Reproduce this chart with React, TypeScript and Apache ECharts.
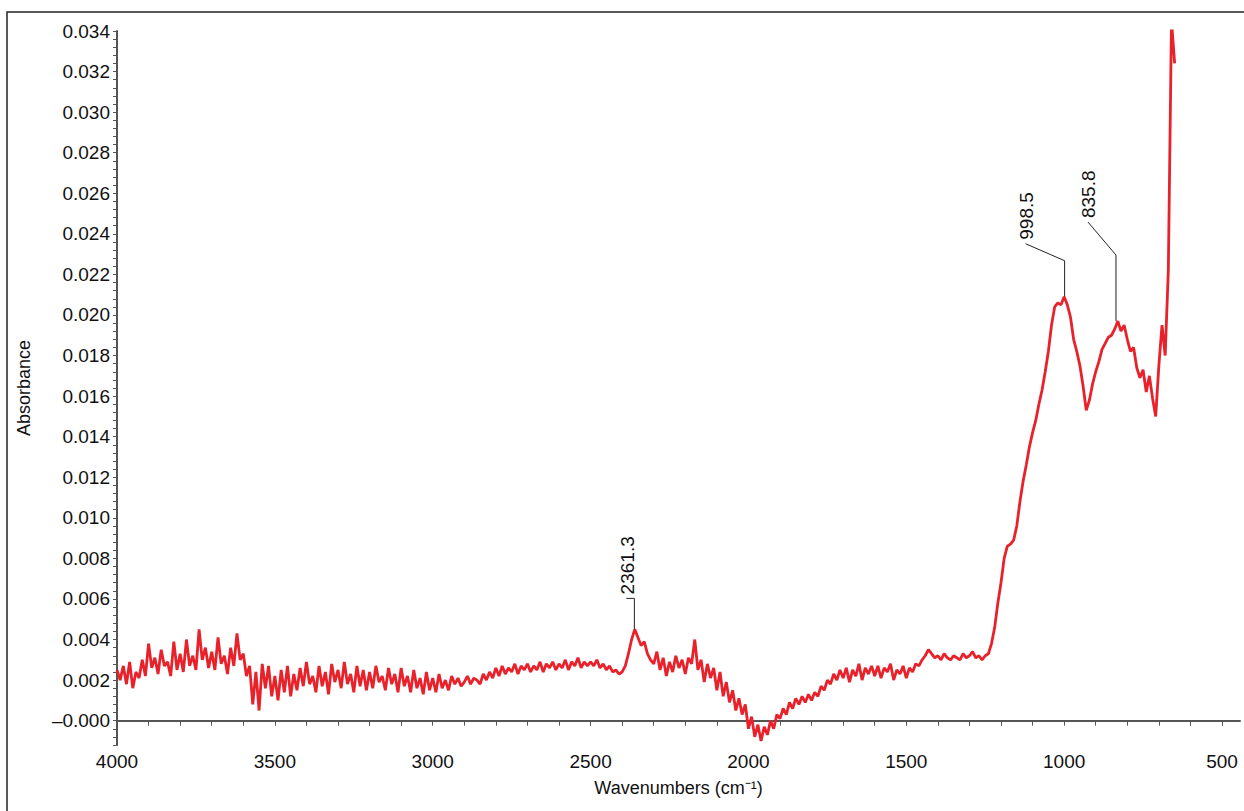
import { useEffect, useRef } from "react";
import * as echarts from "echarts";

// spectrum sampled every 10 cm-1 starting at 4000, one row per 100 cm-1
const startWavenumber = 4000;
const stepWavenumber = 10;
const absorbanceRows: number[][] = [
  [0.0025, 0.002, 0.0027, 0.0018, 0.0029, 0.0016, 0.0024, 0.0021, 0.003, 0.0022],
  [0.0038, 0.0026, 0.0031, 0.0023, 0.0035, 0.0027, 0.0029, 0.0022, 0.0039, 0.0025],
  [0.0033, 0.0024, 0.004, 0.0027, 0.0032, 0.0025, 0.0045, 0.003, 0.0036, 0.0026],
  [0.0034, 0.0025, 0.0041, 0.0028, 0.0032, 0.0023, 0.0036, 0.0027, 0.0043, 0.003],
  [0.0033, 0.0022, 0.0027, 0.0008, 0.0024, 0.0005, 0.0028, 0.0016, 0.0027, 0.0012],
  [0.0022, 0.001, 0.0025, 0.0014, 0.0027, 0.0012, 0.0023, 0.0015, 0.0026, 0.0017],
  [0.0029, 0.0018, 0.0022, 0.0014, 0.0027, 0.0017, 0.0024, 0.0013, 0.0028, 0.0019],
  [0.0025, 0.0016, 0.0029, 0.0018, 0.0023, 0.0014, 0.0027, 0.0017, 0.0025, 0.0015],
  [0.0024, 0.0016, 0.0027, 0.0019, 0.0022, 0.0015, 0.0026, 0.0018, 0.0023, 0.0014],
  [0.0026, 0.0017, 0.0022, 0.0014, 0.0025, 0.0016, 0.0021, 0.0013, 0.0024, 0.0015],
  [0.0021, 0.0014, 0.0023, 0.0016, 0.002, 0.0015, 0.0022, 0.0018, 0.0021, 0.0017],
  [0.0019, 0.0022, 0.0018, 0.0021, 0.002, 0.0018, 0.0023, 0.002, 0.0024, 0.0021],
  [0.0026, 0.0022, 0.0027, 0.0023, 0.0026, 0.0024, 0.0028, 0.0023, 0.0027, 0.0025],
  [0.0028, 0.0024, 0.0027, 0.0025, 0.0029, 0.0024, 0.0028, 0.0026, 0.0029, 0.0025],
  [0.0028, 0.0026, 0.003, 0.0025, 0.0029, 0.0027, 0.0031, 0.0026, 0.0029, 0.0027],
  [0.0029, 0.0027, 0.003, 0.0026, 0.0028, 0.0025, 0.0027, 0.0024, 0.0025, 0.0023],
  [0.0024, 0.0027, 0.0033, 0.004, 0.0045, 0.0041, 0.0037, 0.0039, 0.0033, 0.003],
  [0.0028, 0.0034, 0.0025, 0.0031, 0.0022, 0.0029, 0.0024, 0.0032, 0.0026, 0.003],
  [0.0023, 0.0031, 0.0028, 0.004, 0.0025, 0.003, 0.0019, 0.0028, 0.0021, 0.0026],
  [0.0015, 0.0024, 0.0012, 0.0019, 0.0009, 0.0015, 0.0005, 0.0011, 0.0003, 0.0008],
  [-0.0004, 0.0002, -0.0008, -0.0002, -0.001, -0.0003, -0.0007, 0.0, -0.0004, 0.0003],
  [0.0001, 0.0006, 0.0003, 0.0009, 0.0006, 0.0011, 0.0008, 0.0012, 0.0009, 0.0013],
  [0.001, 0.0014, 0.0012, 0.0017, 0.0015, 0.002, 0.0018, 0.0023, 0.002, 0.0025],
  [0.0021, 0.0026, 0.0019, 0.0025, 0.0022, 0.0028, 0.002, 0.0026, 0.0023, 0.0027],
  [0.0022, 0.0027, 0.0021, 0.0026, 0.0024, 0.0028, 0.002, 0.0025, 0.0023, 0.0027],
  [0.0021, 0.0026, 0.0024, 0.0028, 0.0027, 0.003, 0.0032, 0.0035, 0.0033, 0.0031],
  [0.0032, 0.003, 0.0033, 0.0031, 0.003, 0.0032, 0.0031, 0.003, 0.0033, 0.0031],
  [0.0032, 0.0034, 0.0031, 0.0032, 0.003, 0.0032, 0.0033, 0.0038, 0.0046, 0.0058],
  [0.0068, 0.008, 0.0086, 0.0087, 0.0089, 0.0096, 0.0108, 0.0118, 0.0126, 0.0135],
  [0.0142, 0.0148, 0.0156, 0.0163, 0.0172, 0.0182, 0.0195, 0.0204, 0.0206, 0.0205],
  [0.0209, 0.0205, 0.0199, 0.0188, 0.0182, 0.0175, 0.0165, 0.0153, 0.0158, 0.0166],
  [0.0172, 0.0177, 0.0183, 0.0186, 0.0189, 0.019, 0.0193, 0.0197, 0.0192, 0.0195],
  [0.0188, 0.0182, 0.0184, 0.0174, 0.0169, 0.0173, 0.0162, 0.017, 0.0159, 0.015],
  [0.0175, 0.0195, 0.018, 0.0222, 0.0345, 0.0324],
];

const xTickValues = [
  4000, 3900, 3800, 3700, 3600, 3500, 3400, 3300, 3200, 3100, 3000, 2900, 2800, 2700, 2600, 2500,
  2400, 2300, 2200, 2100, 2000, 1900, 1800, 1700, 1600, 1500, 1400, 1300, 1200, 1100, 1000, 900,
  800, 700, 600, 500,
];
const xLabelValues = [4000, 3500, 3000, 2500, 2000, 1500, 1000, 500];

const peakLabels = [
  { text: "2361.3", wn: 2361.3, abs: 0.0045, rise: 31, dx: -8, dy: 0 },
  { text: "998.5", wn: 998.5, abs: 0.0209, rise: 36, dx: -39, dy: -17 },
  { text: "835.8", wn: 835.8, abs: 0.0197, rise: 66, dx: -28, dy: -33 },
];

const yLabelStep = 0.002;

export default function App() {
  const chartRef = useRef<HTMLDivElement>(null);

  useEffect(() => {
    document.body.style.margin = "0";
    if (!chartRef.current) return;
    const chart = echarts.init(chartRef.current, undefined, { renderer: "svg" });

    const data: [number, number][] = [];
    absorbanceRows.flat().forEach((v, i) => {
      data.push([startWavenumber - i * stepWavenumber, v]);
    });

    const font = "'Liberation Sans', Arial, sans-serif";

    chart.setOption({
      animation: false,
      grid: { left: 117, right: 4, top: 31, bottom: 66 },
      xAxis: {
        type: "value",
        inverse: true,
        min: 443,
        max: 4000,
        name: "Wavenumbers (cm⁻¹)",
        nameLocation: "middle",
        nameGap: 34,
        nameTextStyle: { color: "#111", fontSize: 18, fontFamily: font },
        axisLine: { lineStyle: { color: "#555", width: 2 } },
        axisTick: { length: 5, customValues: xTickValues, lineStyle: { color: "#555" } },
        axisLabel: {
          color: "#111",
          fontSize: 19,
          fontFamily: font,
          margin: 7,
          customValues: xLabelValues,
          formatter: (v: number) => String(v),
        },
        splitLine: { show: false },
      },
      yAxis: {
        type: "value",
        min: -0.0012,
        max: 0.034,
        interval: 0.0004,
        name: "Absorbance",
        nameLocation: "middle",
        nameGap: 84,
        nameTextStyle: { color: "#111", fontSize: 18, fontFamily: font },
        axisLine: { show: true, lineStyle: { color: "#555", width: 2 } },
        axisTick: { length: 4, lineStyle: { color: "#555" } },
        axisLabel: {
          color: "#111",
          fontSize: 19,
          fontFamily: font,
          margin: 7,
          formatter: (v: number) => {
            const r = v / yLabelStep;
            if (Math.abs(r - Math.round(r)) > 1e-6) return "";
            if (Math.abs(v) < 1e-9) return "–0.000";
            return v.toFixed(3);
          },
        },
        splitLine: { show: false },
      },
      series: [
        {
          type: "line",
          data,
          symbol: "none",
          clip: true,
          lineStyle: { color: "#e8212a", width: 2.8 },
        },
      ],
    });

    const graphics: any[] = [
      {
        type: "rect",
        shape: { x: 7, y: 12, width: 1300, height: 900 },
        style: { fill: "none", stroke: "#222", lineWidth: 1.5 },
        silent: true,
      },
    ];
    peakLabels.forEach((p) => {
      const [px, py] = chart.convertToPixel({ gridIndex: 0 }, [p.wn, p.abs]);
      const topY = py - p.rise;
      const ex = px + p.dx;
      const ey = topY + p.dy;
      graphics.push({
        type: "polyline",
        shape: { points: [[px, py], [px, topY], [ex, ey]] },
        style: { stroke: "#222", lineWidth: 1, fill: "none" },
      });
      graphics.push({
        type: "text",
        x: ex + 1,
        y: ey - 4,
        rotation: Math.PI / 2,
        style: {
          text: p.text,
          fontSize: 19,
          fontFamily: font,
          fill: "#111",
          align: "left",
          verticalAlign: "middle",
        },
      });
    });
    chart.setOption({ graphic: graphics });

    return () => chart.dispose();
  }, []);

  return <div ref={chartRef} style={{ width: 1244, height: 811 }} />;
}
